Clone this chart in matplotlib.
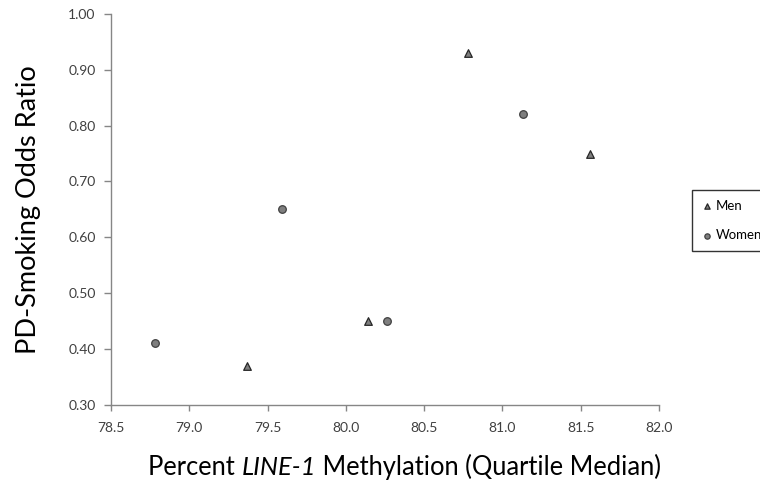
import matplotlib
matplotlib.use("Agg")
import matplotlib.pyplot as plt
from matplotlib.offsetbox import TextArea, HPacker, AnchoredOffsetbox

men_x = [79.37, 80.14, 80.78, 81.56]
men_y = [0.37, 0.45, 0.93, 0.75]
women_x = [78.78, 79.59, 80.26, 81.13]
women_y = [0.41, 0.65, 0.45, 0.82]
xticks = [78.5, 79.0, 79.5, 80.0, 80.5, 81.0, 81.5, 82.0]
yticks = [0.30, 0.40, 0.50, 0.60, 0.70, 0.80, 0.90, 1.00]

FONT = ['Lato', 'DejaVu Sans']
plt.rcParams['font.family'] = FONT

fig = plt.figure(figsize=(7.6, 4.98), dpi=100)
ax = fig.add_axes([0.146, 0.187, 0.721, 0.785])

ax.scatter(men_x, men_y, marker='^', s=30, facecolor='#7f7f7f', edgecolor='#262626', linewidths=0.9, label='Men', zorder=3)
ax.scatter(women_x, women_y, marker='o', s=30, facecolor='#7f7f7f', edgecolor='#404040', linewidths=0.9, label='Women', zorder=3)

ax.set_xlim(78.5, 82.0)
ax.set_ylim(0.30, 1.00)
ax.set_xticks(xticks)
ax.set_xticklabels([f"{v:.1f}" for v in xticks], fontsize=10, color='#404040')
ax.set_yticks(yticks)
ax.set_yticklabels([f"{v:.2f}" for v in yticks], fontsize=10, color='#404040')
for s in ['top', 'right']:
    ax.spines[s].set_visible(False)
for s in ['left', 'bottom']:
    ax.spines[s].set_color('#868686')
    ax.spines[s].set_linewidth(1.0)
ax.tick_params(axis='both', direction='out', length=5, color='#868686', width=1.0)
ax.tick_params(axis='x', pad=8, length=4)
ax.tick_params(axis='y', pad=6)

ax.set_ylabel('PD-Smoking Odds Ratio', fontsize=19.5, labelpad=20)

lab_kw = dict(fontsize=18.4, family=FONT, color='black')
parts = [TextArea('Percent ', textprops=lab_kw),
         TextArea('LINE-1', textprops=dict(lab_kw, style='italic')),
         TextArea(' Methylation (Quartile Median)', textprops=lab_kw)]
box = HPacker(children=parts, align='baseline', pad=0, sep=0)
anch = AnchoredOffsetbox(loc='center', child=box, frameon=False,
                         bbox_to_anchor=(404.5 / 760, 1 - 467 / 498),
                         bbox_transform=fig.transFigure, pad=0, borderpad=0)
fig.add_artist(anch)

leg = fig.legend(loc='upper left', bbox_to_anchor=(691.5 / 760, 1 - 190 / 498), frameon=True,
                 fancybox=False, edgecolor='black', fontsize=9.5, handletextpad=0.2,
                 handlelength=0.9, borderpad=0.75, labelspacing=1.3, markerscale=0.7,
                 borderaxespad=0)
leg.get_frame().set_linewidth(1.0)

fig.savefig('out.png', dpi=100)
